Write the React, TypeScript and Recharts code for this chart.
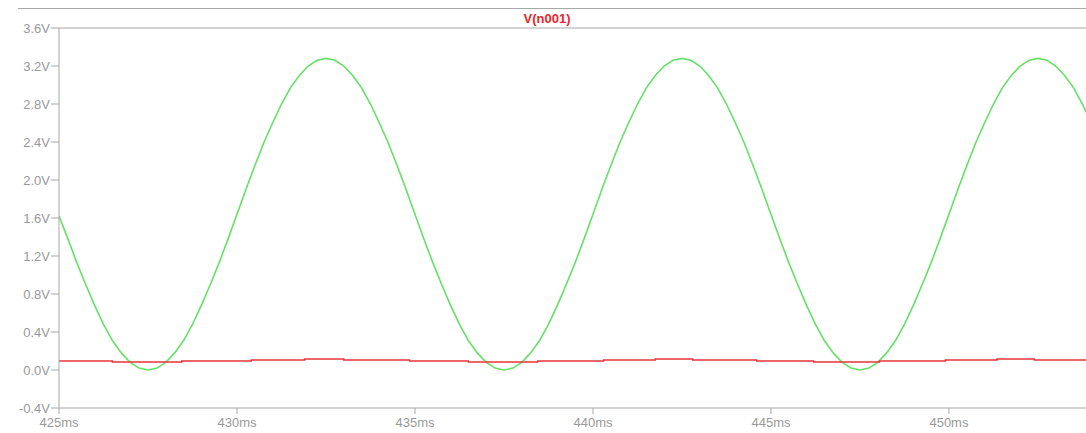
import React from "react";
import { LineChart, Line, XAxis, YAxis, ReferenceLine } from "recharts";

const greenTimes = [
  425, 425.25, 425.5, 425.75, 426, 426.25, 426.5, 426.75, 427, 427.25, 427.5, 427.75,
  428, 428.25, 428.5, 428.75, 429, 429.25, 429.5, 429.75, 430, 430.25, 430.5, 430.75,
  431, 431.25, 431.5, 431.75, 432, 432.25, 432.5, 432.75, 433, 433.25, 433.5, 433.75,
  434, 434.25, 434.5, 434.75, 435, 435.25, 435.5, 435.75, 436, 436.25, 436.5, 436.75,
  437, 437.25, 437.5, 437.75, 438, 438.25, 438.5, 438.75, 439, 439.25, 439.5, 439.75,
  440, 440.25, 440.5, 440.75, 441, 441.25, 441.5, 441.75, 442, 442.25, 442.5, 442.75,
  443, 443.25, 443.5, 443.75, 444, 444.25, 444.5, 444.75, 445, 445.25, 445.5, 445.75,
  446, 446.25, 446.5, 446.75, 447, 447.25, 447.5, 447.75, 448, 448.25, 448.5, 448.75,
  449, 449.25, 449.5, 449.75, 450, 450.25, 450.5, 450.75, 451, 451.25, 451.5, 451.75,
  452, 452.25, 452.5, 452.75, 453, 453.25, 453.5, 453.75, 454,
];
const greenValues = [
  1.62, 1.38, 1.13, 0.9, 0.68, 0.48, 0.31, 0.18, 0.08, 0.02, 0.0, 0.02,
  0.08, 0.18, 0.31, 0.48, 0.68, 0.9, 1.13, 1.38, 1.64, 1.9, 2.15, 2.39,
  2.6, 2.8, 2.97, 3.1, 3.2, 3.26, 3.28, 3.26, 3.2, 3.1, 2.97, 2.8,
  2.6, 2.39, 2.15, 1.9, 1.64, 1.38, 1.13, 0.9, 0.68, 0.48, 0.31, 0.18,
  0.08, 0.02, 0.0, 0.02, 0.08, 0.18, 0.31, 0.48, 0.68, 0.9, 1.13, 1.38,
  1.64, 1.9, 2.15, 2.39, 2.6, 2.8, 2.97, 3.1, 3.2, 3.26, 3.28, 3.26,
  3.2, 3.1, 2.97, 2.8, 2.6, 2.39, 2.15, 1.9, 1.64, 1.38, 1.13, 0.9,
  0.68, 0.48, 0.31, 0.18, 0.08, 0.02, 0.0, 0.02, 0.08, 0.18, 0.31, 0.48,
  0.68, 0.9, 1.13, 1.38, 1.64, 1.9, 2.15, 2.39, 2.6, 2.8, 2.97, 3.1,
  3.2, 3.26, 3.28, 3.26, 3.2, 3.1, 2.97, 2.8, 2.6,
];

const redTimes = [
  425, 426.5, 428.45, 430.4, 431.9, 433.0, 434.85, 436.5, 438.45,
  440.3, 441.75, 442.8, 444.6, 446.2, 448.05, 449.9, 451.35, 452.4, 454,
];
const redValues = [
  0.095, 0.085, 0.095, 0.105, 0.115, 0.105, 0.095, 0.085, 0.095,
  0.105, 0.115, 0.105, 0.095, 0.085, 0.095, 0.105, 0.115, 0.105, 0.105,
];

const yTicks = [-0.4, 0, 0.4, 0.8, 1.2, 1.6, 2.0, 2.4, 2.8, 3.2, 3.6];
const xTicks = [425, 430, 435, 440, 445, 450];
const title = "V(n001)";

const greenData = greenTimes.map((t, i) => ({ t, v: greenValues[i] }));
const redData = redTimes.map((t, i) => ({ t, v: redValues[i] }));

const axisGrey = "#a8a8a8";
const tickStyle = { fill: "#999999", fontSize: 13, fontFamily: "Liberation Sans, Arial, sans-serif" };

export default function App() {
  return (
    <div style={{ position: "absolute", left: 0, top: 0, width: 1086, height: 433, background: "#fff" }}>
      <div style={{ position: "absolute", left: 18, top: 8, width: 1068, height: 0, borderTop: `1px solid ${axisGrey}` }} />
      <div
        style={{
          position: "absolute",
          left: 447,
          width: 200,
          top: 9,
          height: 19,
          lineHeight: "19px",
          textAlign: "center",
          color: "#e8262d",
          fontWeight: "bold",
          fontSize: 13,
          fontFamily: "Liberation Sans, Arial, sans-serif",
        }}
      >
        {title}
      </div>
      <LineChart width={1086} height={433} margin={{ top: 28, right: 0, left: 0, bottom: 0 }}>
        <XAxis
          type="number"
          dataKey="t"
          domain={[425, 453.85]}
          allowDataOverflow
          ticks={xTicks}
          tickFormatter={(v: number) => `${v}ms`}
          height={25}
          tickSize={6}
          tickMargin={4}
          stroke={axisGrey}
          tick={tickStyle}
          interval={0}
        />
        <YAxis
          type="number"
          domain={[-0.4, 3.6]}
          allowDataOverflow
          ticks={yTicks}
          tickFormatter={(v: number) => `${v.toFixed(1)}V`}
          width={59}
          tickSize={8}
          tickMargin={1}
          stroke={axisGrey}
          tick={tickStyle}
          interval={0}
        />
        <ReferenceLine y={3.6} stroke={axisGrey} strokeWidth={1} />
        <Line
          data={greenData}
          dataKey="v"
          type="linear"
          stroke="#66e066"
          strokeWidth={1.6}
          dot={false}
          isAnimationActive={false}
        />
        <Line
          data={redData}
          dataKey="v"
          type="stepAfter"
          stroke="#e8343c"
          strokeWidth={1.5}
          dot={false}
          isAnimationActive={false}
        />
      </LineChart>
    </div>
  );
}
